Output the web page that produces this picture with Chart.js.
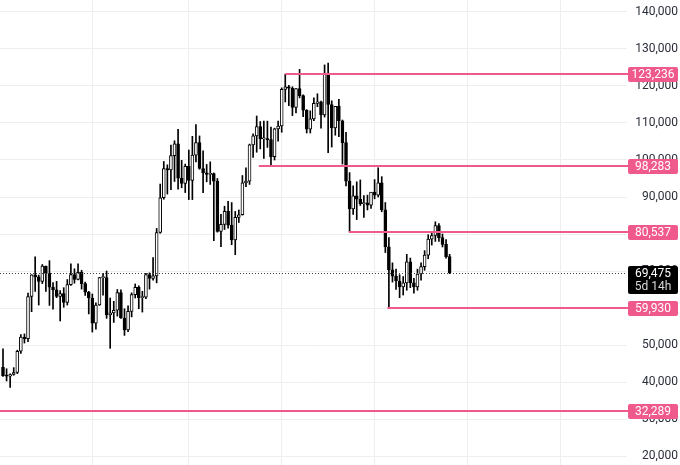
<!DOCTYPE html>
<html>
<head>
<meta charset="utf-8">
<title>BTC weekly</title>
<script src="https://cdn.jsdelivr.net/npm/chart.js@4.4.1/dist/chart.umd.min.js"></script>
<style>
  html, body { margin: 0; padding: 0; background: #fff; }
  #wrap { width: 680px; height: 465px; position: relative; }
</style>
</head>
<body>
<div id="wrap"><canvas id="chart"></canvas></div>
<script>
// Weekly candles, first week starts 2024-01-08
const open = [
  43950, 41730, 41580, 42030, 42580, 48300, 52140, 51730, 63100, 68950,
  68400, 67200, 71300, 69350, 65660, 64940, 63100, 63900, 61500, 66300,
  69000, 67700, 69650, 66600, 64250, 62700, 55900, 60800, 68200, 68250,
  58100, 58700, 59400, 64200, 57300, 54100, 59100, 63600, 65600, 62800,
  62900, 69000, 68000, 68700, 80400, 89800, 97700, 97300, 101200, 104400,
  95100, 93700, 98300, 94500, 101300, 104700, 97700, 96500, 96100, 96300,
  94300, 80700, 82600, 86100, 82400, 78400, 84500, 85200, 93800, 94300,
  104100, 106500, 109000, 105700, 105700, 105500, 100900, 108400, 109200, 119100,
  119800, 119400, 114200, 119300, 117400, 113500, 108300, 111100, 115300, 115700,
  112200, 123500, 115000, 108700, 114500, 110600, 104700, 94300, 86800, 90300,
  89400, 88200, 88400, 87800, 91300, 90500, 93800, 86500, 76500, 70300,
  68600, 67300, 65700, 66800, 72500, 66800, 65700, 69200, 71200, 74300,
  78600, 79600, 82300, 79000, 77200, 73900
];
const high = [
  48970, 43580, 42200, 43880, 48590, 52820, 52990, 64000, 69000, 73800,
  68900, 71750, 71300, 72800, 66900, 67200, 64700, 65500, 67700, 71950,
  70600, 71950, 70200, 67000, 64500, 63800, 61400, 68300, 69400, 70000,
  62700, 61800, 65000, 64900, 59800, 60600, 64100, 66500, 66000, 64500,
  69400, 69500, 73600, 81500, 93500, 99600, 98700, 104000, 105200, 108300,
  99900, 98900, 102700, 106400, 109600, 106500, 102500, 98800, 99500, 96500,
  95000, 85300, 87500, 88800, 88500, 86100, 86500, 95800, 97900, 104300,
  107100, 111900, 110400, 110500, 110500, 108900, 108600, 110500, 119500, 123200,
  120200, 119800, 119300, 124500, 117600, 113600, 113300, 116800, 117900, 115900,
  125700, 126200, 116000, 114000, 116400, 110800, 107500, 96600, 93000, 94100,
  94600, 90400, 90500, 91000, 94700, 97900, 95500, 88500, 79000, 72200,
  70500, 69000, 68500, 74500, 73500, 68000, 70500, 72200, 75500, 79800,
  80500, 83300, 82800, 80000, 78500, 74500
];
const low = [
  41500, 40280, 38555, 41830, 42260, 47700, 50520, 50900, 59000, 64500,
  60800, 66600, 64500, 60700, 59700, 62800, 56500, 60200, 60800, 66100,
  66700, 67600, 65100, 63400, 58400, 53500, 54300, 60700, 63500, 57200,
  49100, 56100, 57800, 57200, 52600, 53600, 57600, 62700, 59800, 58900,
  62500, 65100, 67500, 66800, 80200, 89400, 90800, 92000, 94200, 92100,
  92500, 91200, 89300, 89300, 99500, 97500, 91200, 94100, 93400, 78200,
  80500, 76600, 81200, 81600, 77100, 74400, 83100, 85100, 92800, 93400,
  100700, 102100, 103000, 100400, 103400, 98200, 100000, 105100, 107500, 115700,
  114700, 112000, 112700, 116800, 111700, 107300, 107300, 110600, 114400, 108600,
  111600, 102000, 103500, 106700, 106300, 98900, 93000, 80537, 85300, 83900,
  87700, 84500, 86500, 86900, 89500, 90000, 86000, 75000, 59930, 67000,
  65000, 62800, 63500, 64800, 65500, 64000, 64800, 67500, 70200, 73300,
  77000, 78000, 78000, 76500, 73500, 69300
];
const close = [
  41730, 41580, 42030, 42580, 48300, 52140, 51730, 63100, 68950, 68400,
  67200, 71300, 69350, 65660, 64940, 63100, 63900, 61500, 66300, 69000,
  67700, 69650, 66600, 64250, 62700, 55900, 60800, 68200, 68250, 58100,
  58700, 59400, 64200, 57300, 54100, 59100, 63600, 65600, 62800, 62900,
  69000, 68000, 68700, 80400, 89800, 97700, 97300, 101200, 104400, 95100,
  93700, 98300, 94500, 101300, 104700, 97700, 96500, 96100, 96300, 94300,
  80700, 82600, 86100, 82400, 78400, 84500, 85200, 93800, 94300, 104100,
  106500, 109000, 105700, 105700, 105500, 100900, 108400, 109200, 119100, 119800,
  119400, 114200, 119300, 117400, 113500, 108300, 111100, 115300, 115700, 112200,
  123500, 115000, 108700, 114500, 110600, 104700, 94300, 86800, 90300, 89400,
  88200, 88400, 87800, 91300, 90500, 93800, 86500, 76500, 70300, 68600,
  67300, 65700, 66800, 72500, 66800, 65700, 69200, 71200, 74300, 78600,
  79600, 82300, 79000, 77200, 73900, 69475
];

// price axis ticks
const priceTicks = [20000, 30000, 40000, 50000, 60000, 70000, 80000, 90000,
  100000, 110000, 120000, 130000, 140000];

// horizontal levels and the week they start from
const levels = [123236, 98283, 80537, 59930, 32289];
const levelStart = [79, 71.6, 96.8, 107.6, -5];
const lastPrice = 69475;
const countdown = "5d 14h";

// first weekly bar of Jul / Jan
const gridWeeks = [25, 52, 78, 104, 130, 156];

const PINK = "#f0598b";
const GRID = "#eceef1";
const FONT = "Roboto";

const wicks = close.map((c, i) => ({ x: i, y: [low[i], high[i]] }));
const bodies = close.map((c, i) => ({ x: i, y: [open[i], c] }));
const bodyFill = close.map((c, i) => (c >= open[i] ? "#ffffff" : "#000000"));

const fmt = v => Math.round(v).toLocaleString("en-US");

const overlay = {
  id: "overlay",
  afterDatasetsDraw(chart) {
    const { ctx, chartArea, scales: { x, y } } = chart;
    ctx.save();
    // dotted last price line
    const py = Math.round(y.getPixelForValue(lastPrice)) + 0.5;
    ctx.strokeStyle = "#444";
    ctx.lineWidth = 1;
    ctx.setLineDash([1, 2]);
    ctx.beginPath();
    ctx.moveTo(chartArea.left, py);
    ctx.lineTo(chartArea.right, py);
    ctx.stroke();
    ctx.setLineDash([]);

    ctx.strokeStyle = PINK;
    ctx.lineWidth = 2;
    levels.forEach((v, i) => {
      const ly = Math.round(y.getPixelForValue(v));
      const lx = Math.max(chartArea.left, x.getPixelForValue(levelStart[i]));
      ctx.beginPath();
      ctx.moveTo(lx, ly);
      ctx.lineTo(chartArea.right + 2, ly);
      ctx.stroke();
    });
    ctx.restore();
  },
  afterDraw(chart) {
    const { ctx, chartArea, scales: { y } } = chart;
    const bx = chartArea.right + 1;
    const bw = 50;
    ctx.save();
    ctx.font = "12px " + FONT;
    ctx.textAlign = "center";
    ctx.textBaseline = "middle";
    levels.forEach(v => {
      const ly = Math.round(y.getPixelForValue(v));
      ctx.fillStyle = PINK;
      ctx.beginPath();
      ctx.roundRect(bx, ly - 7, bw, 15, 2);
      ctx.fill();
      ctx.fillStyle = "#fff";
      ctx.fillText(fmt(v), bx + bw / 2, ly + 1);
    });
    const py = Math.round(y.getPixelForValue(lastPrice));
    ctx.fillStyle = "#000";
    ctx.beginPath();
    ctx.roundRect(bx, py - 7, bw, 28, 2);
    ctx.fill();
    ctx.fillStyle = "#fff";
    ctx.fillText(fmt(lastPrice), bx + bw / 2, py + 1);
    ctx.fillStyle = "#d8d8d8";
    ctx.fillText(countdown, bx + bw / 2, py + 14);
    ctx.restore();
  }
};

new Chart(document.getElementById("chart"), {
  type: "bar",
  data: {
    datasets: [
      {
        label: "wick",
        data: wicks,
        backgroundColor: "#000",
        borderWidth: 0,
        barThickness: 1,
        grouped: false,
        order: 1
      },
      {
        label: "body",
        data: bodies,
        backgroundColor: bodyFill,
        borderColor: "#000",
        borderWidth: 1,
        borderSkipped: false,
        barThickness: 3,
        minBarLength: 1,
        grouped: false,
        order: 0
      }
    ]
  },
  options: {
    responsive: true,
    maintainAspectRatio: false,
    animation: false,
    devicePixelRatio: 1,
    layout: { padding: { left: 0, right: 2, top: 0, bottom: 0 } },
    plugins: {
      legend: { display: false },
      tooltip: { enabled: false }
    },
    scales: {
      x: {
        type: "linear",
        min: -0.84,
        max: 174.64,
        offset: false,
        afterBuildTicks: s => { s.ticks = gridWeeks.map(v => ({ value: v })); },
        afterFit: s => { s.height = 0; s.paddingLeft = 0; s.paddingRight = 0; },
        ticks: { display: false },
        grid: { color: GRID, drawTicks: false, offset: false },
        border: { display: false }
      },
      y: {
        position: "right",
        min: 17568,
        max: 143243,
        afterBuildTicks: s => { s.ticks = priceTicks.map(v => ({ value: v })); },
        afterFit: s => { s.width = 51; s.paddingTop = 0; s.paddingBottom = 0; },
        ticks: {
          crossAlign: "far",
          padding: 0,
          color: "#2a2e39",
          font: { family: FONT, size: 12 },
          callback: v => fmt(v)
        },
        grid: { color: GRID, drawTicks: false },
        border: { display: false }
      }
    }
  },
  plugins: [overlay]
});
</script>
</body>
</html>
